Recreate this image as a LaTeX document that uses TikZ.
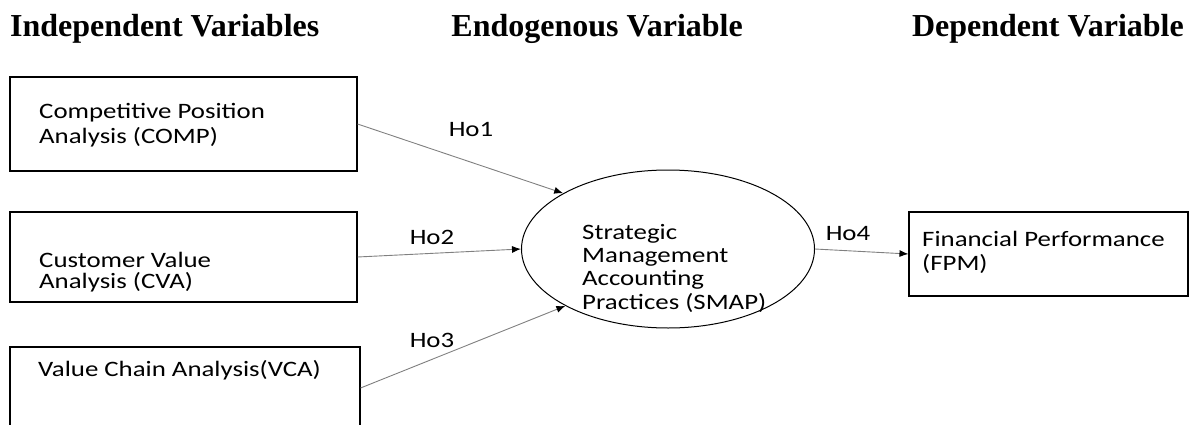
\documentclass[tikz,border=0pt]{standalone}
\usepackage{fontspec}
\setmainfont{Carlito}[FakeStretch=1.22]
\newfontfamily\titlefont{Liberation Serif}
\usetikzlibrary{arrows.meta,shapes.geometric}
\begin{document}
\begin{tikzpicture}[x=1pt,y=-1pt,
  box/.style={draw=black, line width=1.1pt, rectangle, inner sep=0pt},
  oval/.style={draw=black, line width=1pt, ellipse, inner sep=0pt},
  txt/.style={font=\fontsize{22}{24}\selectfont, align=left, inner sep=0pt, anchor=base west},
  ttl/.style={font=\titlefont\bfseries\fontsize{32}{36}\selectfont, inner sep=0pt},
  lbl/.style={font=\fontsize{22}{24}\selectfont, inner sep=0pt},
  arr/.style={draw=black!50, line width=0.9pt, -{Latex[length=9pt,width=7pt,color=black]}}]
\useasboundingbox (0,0) rectangle (1198,425);
\clip (0,0) rectangle (1198,425);
% titles
\node[ttl, anchor=base west] (t1) at (10,37) {Independent Variables};
\node[ttl, anchor=base east] (t2) at (743,37) {Endogenous Variable};
\node[ttl, anchor=base east] (t3) at (1184,37) {Dependent Variable};
% boxes
\node[box, minimum width=347pt, minimum height=94pt] (comp) at (183.5,124) {};
\node[box, minimum width=347pt, minimum height=90pt] (cva) at (183.5,257) {};
\node[box, minimum width=350pt, minimum height=82pt] (vca) at (185,388) {};
\node[oval, minimum width=293pt, minimum height=158pt] (smap) at (668,249) {};
\node[box, minimum width=279pt, minimum height=84pt] (fpm) at (1048.5,254) {};
% texts (anchored at the baseline of the last line)
\node[txt, font=\fontsize{22}{24.7}\selectfont] (comptxt) at (39,143.2) {Competitive Position\\Analysis (COMP)};
\node[txt, font=\fontsize{22}{20.7}\selectfont] (cvatxt) at (39,288.2) {Customer Value\\Analysis (CVA)};
\node[txt] (vcatxt) at (38,376.5) {Value Chain Analysis(VCA)};
\node[txt, font=\fontsize{22}{23.3}\selectfont] (smaptxt) at (582,309.1) {Strategic\\Management\\Accounting\\Practices (SMAP)};
\node[txt] (fpmtxt) at (922,270) {Financial Performance\\(FPM)};
% connectors
\draw[arr] (comp.east) -- (smap.152);
\draw[arr] (cva.east) -- (smap.west);
\draw[arr] (vca.east) -- (smap.209);
\draw[arr] (smap.east) -- (fpm.west);
% labels
\node[lbl] (h1) at (471,129) {Ho1};
\node[lbl] (h2) at (432,237) {Ho2};
\node[lbl] (h3) at (432,340) {Ho3};
\node[lbl] (h4) at (848,234) {Ho4};
\end{tikzpicture}
\end{document}
